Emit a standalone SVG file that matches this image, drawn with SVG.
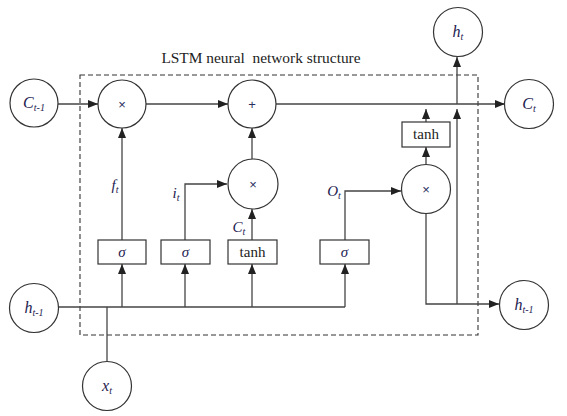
<svg xmlns="http://www.w3.org/2000/svg" width="567" height="416" viewBox="0 0 567 416">
<defs>
<marker id="a" viewBox="0 0 10 8" refX="10" refY="4" markerWidth="10" markerHeight="8" orient="auto" markerUnits="userSpaceOnUse"><path d="M0,0 L10,4 L0,8 z" fill="#222"/></marker>
</defs>
<style>
.c{fill:#fff;stroke:#333;stroke-width:1.2}
.b{fill:#fff;stroke:#333;stroke-width:1.2}
.l{fill:none;stroke:#444;stroke-width:1.3}
.ar{marker-end:url(#a)}
.v{font-family:"Liberation Serif",serif;font-style:italic;font-size:16px;fill:#1d2150;text-anchor:middle}
.s{font-size:10px}
.o{font-family:"Liberation Sans",sans-serif;font-size:13px;fill:#2a2f60;text-anchor:middle}
.t{font-family:"Liberation Serif",serif;font-size:15px;fill:#222;text-anchor:middle}
.g{font-family:"Liberation Serif",serif;font-style:italic;font-size:15px;fill:#1d2150;text-anchor:middle}
</style>
<rect x="80" y="75" width="398" height="260" fill="none" stroke="#333" stroke-width="1.1" stroke-dasharray="5,3"/>
<text x="261" y="63" font-family="Liberation Serif,serif" font-size="15.4" fill="#222" text-anchor="middle" xml:space="preserve">LSTM neural  network structure</text>
<g id="connectors">
<path class="l ar" d="M58,104 H98"/>
<path class="l ar" d="M146,104 H228"/>
<path class="l ar" d="M276,104 H505"/>
<path class="l" d="M58,307 H345"/>
<path class="l ar" d="M122,307 V264"/>
<path class="l ar" d="M185,307 V264"/>
<path class="l ar" d="M252,307 V264"/>
<path class="l ar" d="M345,307 V264"/>
<path class="l" d="M107,307 V361"/>
<path class="l ar" d="M122,240 V128"/>
<path class="l ar" d="M185,240 V184 H227"/>
<path class="l ar" d="M252,240 V209"/>
<path class="l ar" d="M252,159 V128"/>
<path class="l ar" d="M345,240 V191 H401"/>
<path class="l ar" d="M426,213 V304 H499"/>
<path class="l ar" d="M426,164 V147"/>
<path class="l ar" d="M426,122 V109"/>
<path class="l ar" d="M457,304 V109"/>
<path class="l ar" d="M457,104 V57"/>
</g>
<text class="g" x="115" y="190">f<tspan class="s" dy="3">t</tspan></text>
<text class="g" x="176" y="198">i<tspan class="s" dy="3">t</tspan></text>
<text class="g" x="239" y="232">C<tspan class="s" dy="3">t</tspan></text>
<text class="g" x="334" y="196">O<tspan class="s" dy="3">t</tspan></text>
<g id="c_prev"><circle class="c" cx="34" cy="103" r="24"/><text class="v" x="34" y="108">C<tspan class="s" dy="3">t-1</tspan></text></g>
<g id="mul1"><circle class="c" cx="122" cy="104" r="24"/><text class="o" x="122" y="109">×</text></g>
<g id="add"><circle class="c" cx="252" cy="104" r="24"/><text class="o" x="252" y="109">+</text></g>
<g id="mul2"><circle class="c" cx="253" cy="184" r="25"/><text class="o" x="253" y="189">×</text></g>
<g id="mul3"><circle class="c" cx="426" cy="189" r="24.5"/><text class="o" x="426" y="194">×</text></g>
<g id="h_t"><circle class="c" cx="458" cy="32" r="24.5"/><text class="v" x="458" y="37">h<tspan class="s" dy="3">t</tspan></text></g>
<g id="c_t"><circle class="c" cx="529" cy="104" r="24.5"/><text class="v" x="529" y="109">C<tspan class="s" dy="3">t</tspan></text></g>
<g id="h_prev_in"><circle class="c" cx="34" cy="308" r="24.5"/><text class="v" x="34" y="313">h<tspan class="s" dy="3">t-1</tspan></text></g>
<g id="x_t"><circle class="c" cx="107" cy="386" r="24.5"/><text class="v" x="107" y="391">x<tspan class="s" dy="3">t</tspan></text></g>
<g id="h_prev_out"><circle class="c" cx="524" cy="305" r="24.5"/><text class="v" x="524" y="310">h<tspan class="s" dy="3">t-1</tspan></text></g>
<g id="sig_f"><rect class="b" x="98" y="240" width="48" height="24"/><text class="g" x="122" y="257">σ</text></g>
<g id="sig_i"><rect class="b" x="161" y="240" width="49" height="24"/><text class="g" x="185.5" y="257">σ</text></g>
<g id="tanh_c"><rect class="b" x="228" y="240" width="49" height="24"/><text class="t" x="252.5" y="257">tanh</text></g>
<g id="sig_o"><rect class="b" x="320" y="240" width="49" height="24"/><text class="g" x="344.5" y="257">σ</text></g>
<g id="tanh_h"><rect class="b" x="402" y="122" width="48" height="25"/><text class="t" x="426" y="139">tanh</text></g>
</svg>
